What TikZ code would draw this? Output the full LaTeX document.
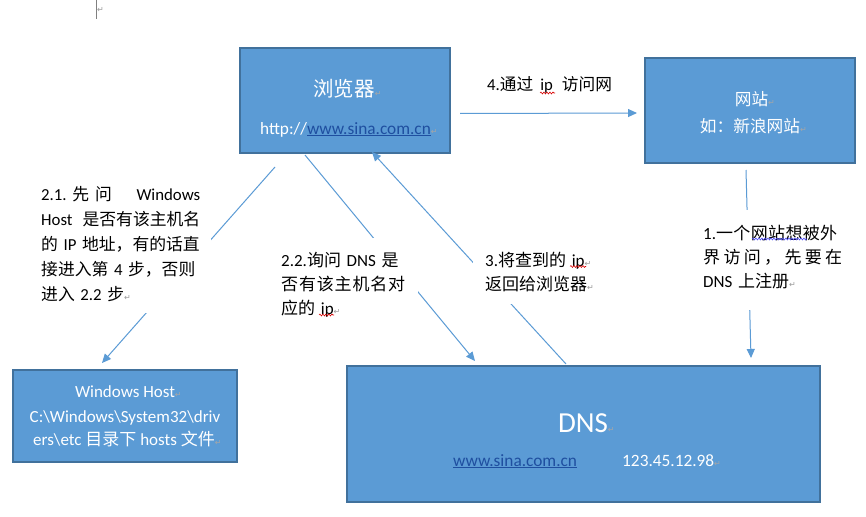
\documentclass[tikz,border=0pt]{standalone}
\usepackage{fontspec}
\setmainfont{Carlito}
\newfontfamily\zhfont{Noto Sans CJK SC}
\newfontfamily\symfont{DejaVu Sans}
\usetikzlibrary{arrows.meta,decorations.pathmorphing}
\XeTeXinterchartokenstate=1
\newXeTeXintercharclass\zhclass
\newcount\zhc
\zhc="4E00
\loop\XeTeXcharclass\zhc=\zhclass\advance\zhc by 1\relax\ifnum\zhc<"A000 \repeat
\zhc="3000
\loop\XeTeXcharclass\zhc=\zhclass\advance\zhc by 1\relax\ifnum\zhc<"3040 \repeat
\zhc="FF00
\loop\XeTeXcharclass\zhc=\zhclass\advance\zhc by 1\relax\ifnum\zhc<"FFF0 \repeat
\XeTeXinterchartoks 0 \zhclass = {\zhfont}
\XeTeXinterchartoks 4095 \zhclass = {\zhfont}
\XeTeXinterchartoks \zhclass 0 = {\rmfamily}
\XeTeXinterchartoks \zhclass 4095 = {\rmfamily}
\definecolor{boxfill}{HTML}{5B9BD5}
\definecolor{boxline}{HTML}{41719C}
\definecolor{arrcol}{HTML}{5B9BD5}
\definecolor{lnkcol}{HTML}{1F4FA0}
\newcommand\ret[1][black!40]{{\color{#1}\symfont\fontsize{8}{8}\selectfont\char"21B5}}
\newcommand\lnk[1]{\textcolor{lnkcol}{\underline{#1}}}
\begin{document}
\begin{tikzpicture}[x=1pt,y=-1pt,
  box/.style={draw=boxline, line width=1.3pt, fill=boxfill, inner sep=0},
  boxtext/.style={anchor=base, inner sep=0, text=white},
  arr/.style={draw=arrcol, line width=1pt, -{Triangle[length=9pt,width=8pt]}},
  lbl/.style={anchor=north west, fill=white, align=left, text=black},
  redwave/.style={draw=red!85!black, line width=0.6pt, decorate, decoration={snake, amplitude=0.9pt, segment length=3pt}},
  bluewave/.style={draw=blue!70, line width=0.6pt, decorate, decoration={snake, amplitude=0.9pt, segment length=3pt}}]
\useasboundingbox (0,0) rectangle (866,516);
\fill[white] (0,0) rectangle (866,516);
% cursor mark
\draw[black!50, line width=0.6pt] (96,0) -- (96,19);
\node[inner sep=0, anchor=base west] (cursormark) at (97,13) {\ret};
% boxes
\node[box, minimum width=210pt, minimum height=105pt] (browser) at (345,100.5) {};
\node[box, minimum width=210pt, minimum height=105pt] (site) at (750,110.5) {};
\node[box, minimum width=224pt, minimum height=92pt] (host) at (125,416) {};
\node[box, minimum width=473pt, minimum height=136pt] (dns) at (583.5,434) {};
% box texts
\node[boxtext, font=\fontsize{20.5}{20.5}\selectfont] (browsertitle) at (344,97) {浏览器\rlap{\ret[gray!70]}};
\node[boxtext, font=\fontsize{17.3}{17.3}\selectfont] (browserurl) at (345.5,134) {http://\lnk{www.sina.com.cn}\rlap{\ret[gray!70]}};
\node[boxtext, font=\fontsize{16.7}{16.7}\selectfont] (sitename) at (751.5,106) {网站\rlap{\ret[gray!70]}};
\node[boxtext, font=\fontsize{16.7}{16.7}\selectfont] (siteeg) at (750,132) {如：新浪网站\rlap{\ret[gray!70]}};
\node[boxtext, font=\fontsize{17}{17}\selectfont] (host1) at (125,397.6) {Windows Host\rlap{\ret[gray!70]}};
\node[boxtext, font=\fontsize{17}{17}\selectfont] (host2) at (125,422.5) {C:\textbackslash Windows\textbackslash System32\textbackslash driv};
\node[boxtext, font=\fontsize{17}{17}\selectfont] (host3) at (124,445) {ers\textbackslash etc 目录下 hosts 文件\rlap{\ret[gray!70]}};
\node[boxtext, font=\fontsize{29}{29}\selectfont] (dnstitle) at (583,432) {DNS\rlap{\ret[gray!70]}};
\node[boxtext, anchor=base west, font=\fontsize{17.3}{17.3}\selectfont] (dnsurl) at (453,466) {\lnk{www.sina.com.cn}};
\node[boxtext, anchor=base west, font=\fontsize{17.3}{17.3}\selectfont] (dnsip) at (622,466) {123.45.12.98\ret[gray!70]};
% connector end points
\coordinate (c21s) at (275,167); \coordinate (c21e) at (102,363);
\coordinate (c22s) at (305,155); \coordinate (c22e) at (475,361);
\coordinate (c3s) at (566,364);  \coordinate (c3e) at (372,152);
\coordinate (c1s) at (746,170);  \coordinate (c1e) at (751,358);
\coordinate (c4s) at (460,113.5); \coordinate (c4e) at (637,113);
% connectors
\draw[arr] (c21s) -- (c21e);
\draw[arr] (c22s) -- (c22e);
\draw[arr] (c3s) -- (c3e);
\draw[arr] (c1s) -- (c1e);
\draw[arr] (c4s) -- (c4e);
% labels
\node[lbl, inner xsep=11pt, inner ysep=11.5pt, text width=159pt, font=\fontsize{16.8}{25}\selectfont] (l21) at (30,174)
 {\noindent\rule{0pt}{15pt}\makebox[159pt][s]{2.1.\ 先\hspace{6pt}问\hfill Windows}\\
  \makebox[159pt][s]{Host\hfill 是否有该主机名}\\
  \makebox[159pt][s]{的 IP 地址，有的话直}\\
  \makebox[159pt][s]{接进入第 4 步，否则}\\
  进入 2.2 步\ret};
\node[lbl, inner xsep=13pt, inner ysep=13pt, text width=124pt, font=\fontsize{17}{24}\selectfont] (l22) at (268,238)
 {\noindent\rule{0pt}{15pt}\makebox[124pt][s]{2.2.询问 DNS 是}\\
  \makebox[124pt][s]{否\hfil 有\hfil 该\hfil 主\hfil 机\hfil 名\hfil 对}\\
  应的 ip\ret};
\node[lbl, inner xsep=12pt, inner ysep=12pt, text width=120pt, font=\fontsize{17}{24.5}\selectfont] (l3) at (473,239)
 {\noindent\rule{0pt}{15pt}3.将查到的 ip\ret\\
  返回给浏览器\ret};
\node[lbl, inner xsep=5pt, inner ysep=14pt, text width=140pt, font=\fontsize{17}{24}\selectfont] (l1) at (698,210)
 {\noindent\rule{0pt}{15pt}\makebox[134pt][s]{1.一\hfil 个\hfil 网\hfil 站\hfil 想\hfil 被\hfil 外}\\
  \makebox[139pt][s]{界\hfil 访\hfil 问\hfil ，\hfil 先\hfil 要\hfil 在}\\
  DNS 上注册\ret\rule[-9pt]{0pt}{9pt}};
\node[inner sep=0, anchor=base west, font=\fontsize{16.7}{16.7}\selectfont] (l4) at (487,91) {4.通过\hspace{7pt}ip\hspace{9pt}访问网};
% spell-check wavy underlines
\draw[redwave] (540,93) -- (555,93);
\draw[redwave] (570,266.5) -- (586,266.5);
\draw[redwave] (319,315) -- (334,315);
\draw[bluewave] (752,239) -- (807,239);
\end{tikzpicture}
\end{document}
